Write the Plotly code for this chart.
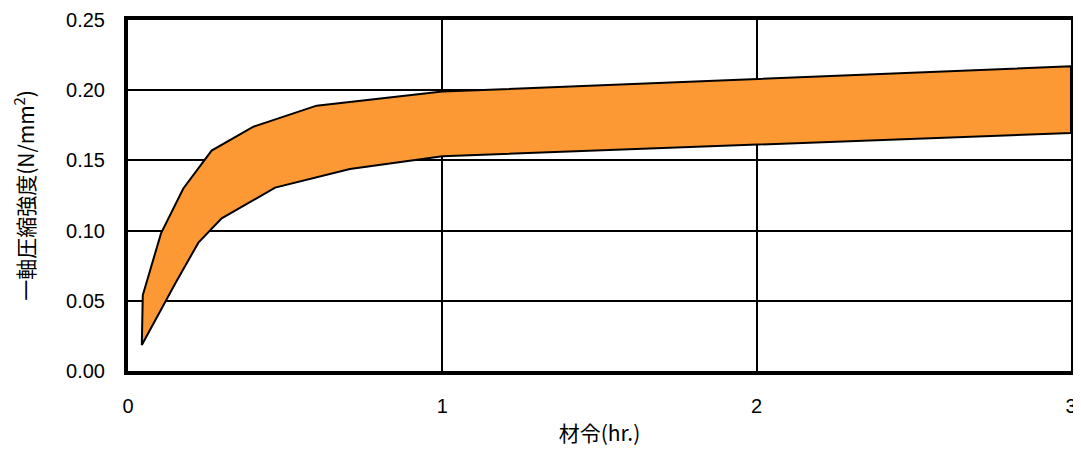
import plotly.graph_objects as go

# data
upper_x = [0.047, 0.105, 0.176, 0.266, 0.399, 0.50, 0.600, 1.0, 2.0, 3.0]
upper_y = [0.054, 0.098, 0.130, 0.157, 0.174, 0.1815, 0.189, 0.199, 0.208, 0.217]
lower_x = [0.044, 0.152, 0.224, 0.298, 0.468, 0.706, 1.0, 2.0, 3.0]
lower_y = [0.0185, 0.063, 0.0914, 0.1087, 0.1306, 0.1439, 0.153, 0.161, 0.1695]

x_ticks = [0, 1, 2, 3]
y_ticks = [0.00, 0.05, 0.10, 0.15, 0.20, 0.25]

poly_x = upper_x + lower_x[::-1] + [upper_x[0]]
poly_y = upper_y + lower_y[::-1] + [upper_y[0]]

fig = go.Figure()
fig.add_trace(go.Scatter(
    x=poly_x, y=poly_y, mode="lines", fill="toself",
    fillcolor="#FD9934", line=dict(color="black", width=2),
    hoverinfo="skip", showlegend=False))

num_font = dict(family="Liberation Sans, Arial, sans-serif", size=20, color="black")
jp_font = dict(family="Noto Sans CJK JP, sans-serif", size=21, color="black")

fig.update_layout(
    width=1073, height=443,
    margin=dict(l=120, r=10, t=12, b=80),
    paper_bgcolor="white", plot_bgcolor="white",
    showlegend=False,
    xaxis=dict(range=[0, 3], tickvals=x_ticks, ticktext=[str(v) for v in x_ticks],
               automargin=False,
               showgrid=True, gridcolor="black", gridwidth=2, zeroline=False,
               showline=True, linecolor="black", linewidth=4, mirror=True,
               ticks="", ticklabelstandoff=14, tickfont=num_font,
               title=dict(text="材令(hr.)", font=jp_font, standoff=11)),
    yaxis=dict(range=[0, 0.25], tickvals=y_ticks, ticktext=[f"{v:.2f}" for v in y_ticks],
               automargin=False,
               showgrid=True, gridcolor="black", gridwidth=2, zeroline=False,
               showline=True, linecolor="black", linewidth=4, mirror=True,
               ticks="", ticklabelstandoff=15, tickfont=num_font,
               title=dict(text="一軸圧縮強度(N/mm<sup>2</sup>)", font=jp_font, standoff=29)),
)

fig.write_html("out.html")
